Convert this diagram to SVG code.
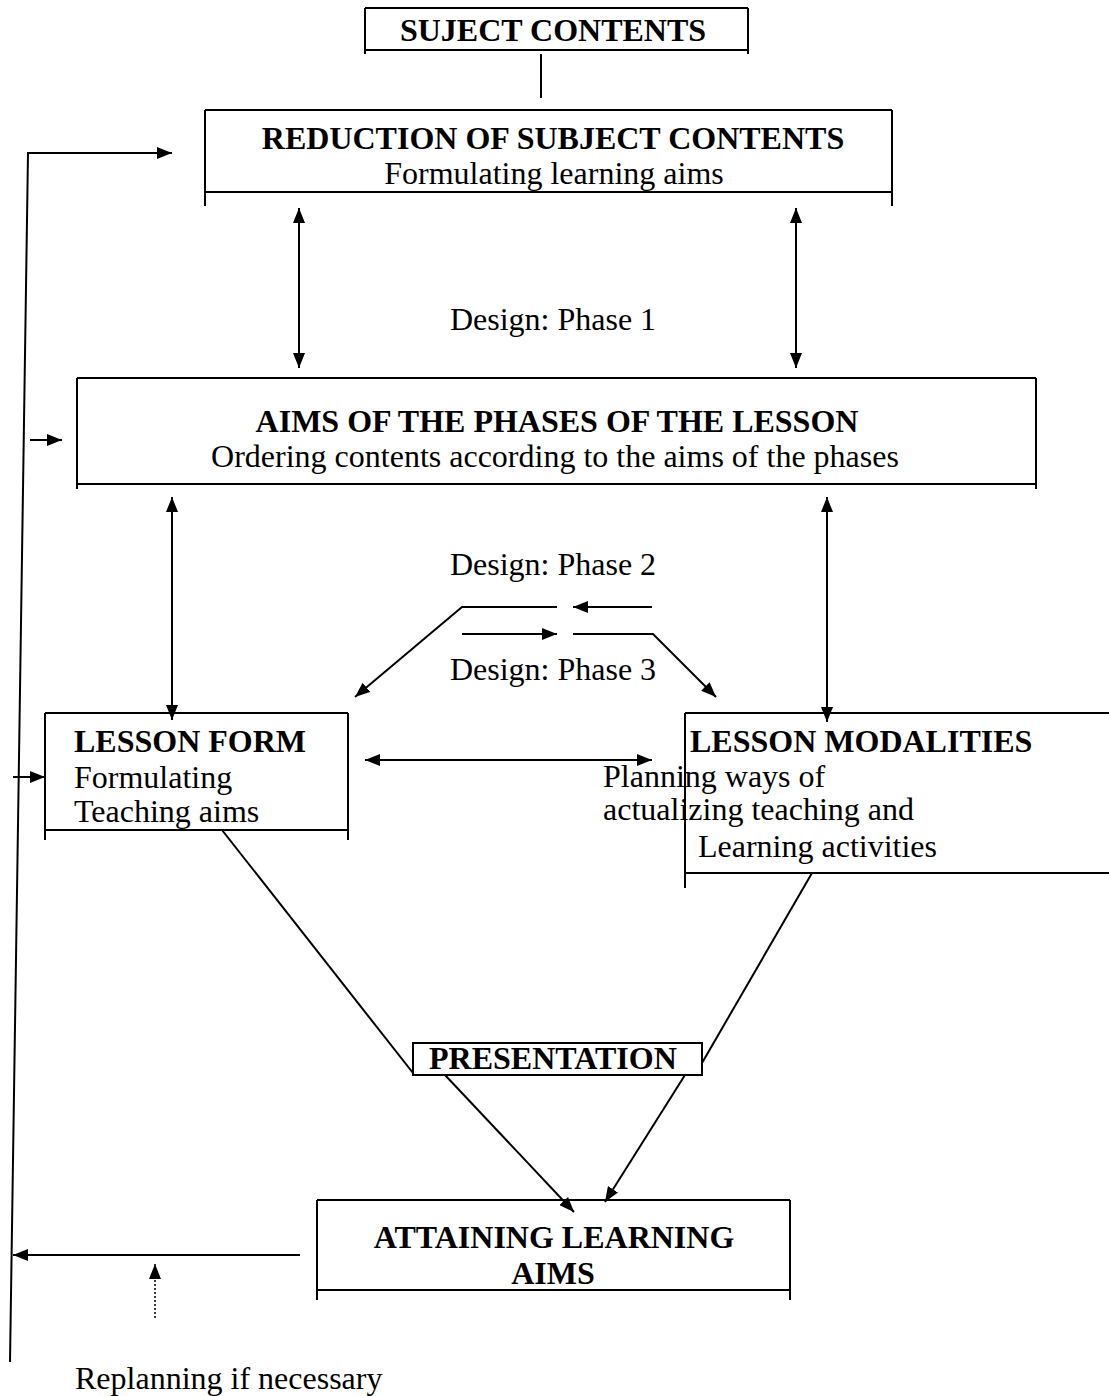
<svg xmlns="http://www.w3.org/2000/svg" width="1109" height="1396" viewBox="0 0 1109 1396">
<style>
  text { font-family: "Liberation Serif", "Times New Roman", serif; font-size: 32px; fill: #000; }
  .b { font-weight: bold; }
  .c { text-anchor: middle; }
  .box { fill: none; stroke: #000; stroke-width: 2; }
  .ln { fill: none; stroke: #000; stroke-width: 2; }
  .dot { fill: none; stroke: #000; stroke-width: 1.5; stroke-dasharray: 2 2; }
</style>
<defs>
  <marker id="ah" viewBox="0 0 15 12" refX="15" refY="6" markerWidth="15" markerHeight="12" markerUnits="userSpaceOnUse" orient="auto-start-reverse">
    <path d="M0,0 L15,6 L0,12 z" fill="#000"/>
  </marker>
</defs>
<rect width="1109" height="1396" fill="#fff"/>

<g id="subject-contents">
  <path class="box" d="M365,8 H748 M365,8 V54 M748,8 V54 M365,50 H748"/>
  <text class="b c" x="553" y="41">SUJECT CONTENTS</text>
</g>

<g id="reduction">
  <path class="box" d="M205,110 H892 M205,110 V206 M892,110 V206 M205,192 H892"/>
  <text class="b c" x="553" y="149">REDUCTION OF SUBJECT CONTENTS</text>
  <text class="c" x="554" y="184">Formulating learning aims</text>
</g>

<g id="aims-phases">
  <path class="box" d="M77,378 H1036 M77,378 V489 M1036,378 V489 M77,484 H1036"/>
  <text class="b c" x="557" y="432">AIMS OF THE PHASES OF THE LESSON</text>
  <text class="c" x="555" y="467">Ordering contents according to the aims of the phases</text>
</g>

<g id="lesson-form">
  <path class="box" d="M45,713 H348 M45,713 V840 M348,713 V840 M45,830 H348"/>
  <text class="b" x="74" y="752">LESSON FORM</text>
  <text x="74" y="788">Formulating</text>
  <text x="74" y="822">Teaching aims</text>
</g>

<g id="lesson-modalities">
  <path class="box" d="M685,713 H1109 M685,713 V888 M685,873 H1109"/>
  <text class="b" x="690" y="752">LESSON MODALITIES</text>
  <text x="603" y="787">Planning ways of</text>
  <text x="603" y="820">actualizing teaching and</text>
  <text x="698" y="857">Learning activities</text>
</g>

<g id="presentation">
  <rect class="box" x="413" y="1043" width="289" height="32"/>
  <text class="b" x="429" y="1069">PRESENTATION</text>
</g>

<g id="attaining">
  <path class="box" d="M317,1200 H790 M317,1200 V1300 M790,1200 V1300 M317,1290 H790"/>
  <text class="b c" x="554" y="1248">ATTAINING LEARNING</text>
  <text class="b c" x="553" y="1284">AIMS</text>
</g>

<g id="labels">
  <text class="c" x="553" y="330">Design: Phase 1</text>
  <text class="c" x="553" y="575">Design: Phase 2</text>
  <text class="c" x="553" y="680">Design: Phase 3</text>
  <text x="75" y="1389">Replanning if necessary</text>
</g>

<g id="connectors">
  <path class="ln" d="M541,54 V98"/>
  <path class="ln" d="M299,208 V368" marker-start="url(#ah)" marker-end="url(#ah)"/>
  <path class="ln" d="M796,208 V368" marker-start="url(#ah)" marker-end="url(#ah)"/>
  <path class="ln" d="M172,497 V720" marker-start="url(#ah)" marker-end="url(#ah)"/>
  <path class="ln" d="M827,497 V722" marker-start="url(#ah)" marker-end="url(#ah)"/>
  <path class="ln" d="M365,760 H652" marker-start="url(#ah)" marker-end="url(#ah)"/>
  <path class="ln" d="M557,607 H462 L355,697" marker-end="url(#ah)"/>
  <path class="ln" d="M652,607 H573" marker-end="url(#ah)"/>
  <path class="ln" d="M462,634 H557" marker-end="url(#ah)"/>
  <path class="ln" d="M573,634 H653 L716,697" marker-end="url(#ah)"/>
  <path class="ln" d="M222,830 L413,1073"/>
  <path class="ln" d="M812,873 L702,1063"/>
  <path class="ln" d="M445,1075 L574,1212" marker-end="url(#ah)"/>
  <path class="ln" d="M685,1075 L605,1202" marker-end="url(#ah)"/>
  <path class="ln" d="M10,1362 L28,153 H172" marker-end="url(#ah)"/>
  <path class="ln" d="M30,440 H62" marker-end="url(#ah)"/>
  <path class="ln" d="M13,777 H45" marker-end="url(#ah)"/>
  <path class="ln" d="M300,1255 H13" marker-end="url(#ah)"/>
  <path class="dot" d="M155,1318 V1264" marker-end="url(#ah)"/>
</g>
</svg>
